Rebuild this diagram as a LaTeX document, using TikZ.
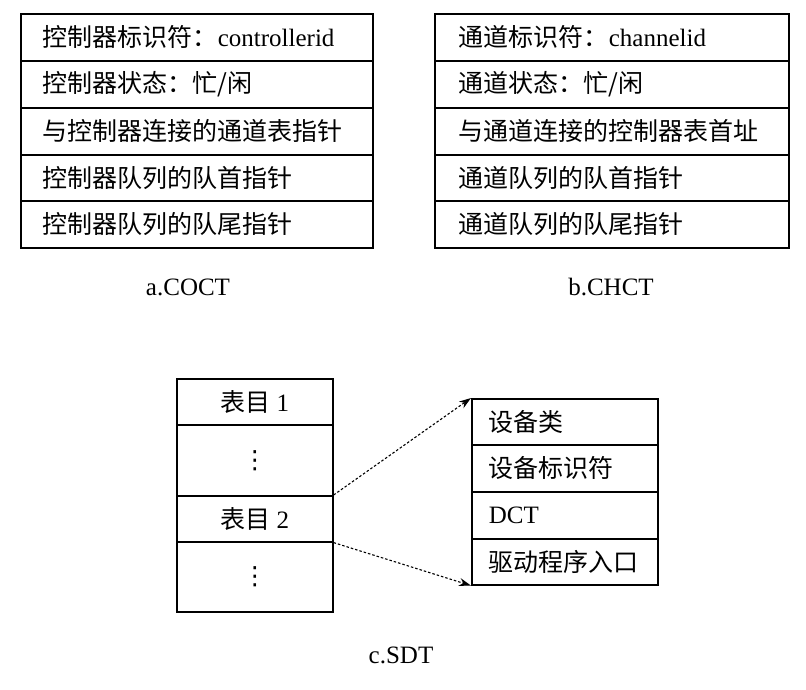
\documentclass[tikz,border=0pt]{standalone}
\usepackage{fontspec}
\setmainfont{Liberation Serif}
\newfontfamily\cjk{Noto Sans CJK SC}
\newfontfamily\symf{DejaVu Sans}
\usetikzlibrary{arrows.meta}
\begin{document}
\begin{tikzpicture}[x=1pt,y=-1pt,
  every node/.style={font=\fontsize{25}{30}\selectfont},
  rowa/.style={draw,line width=1.6pt,rectangle,anchor=north west,
     text width=308pt,inner xsep=22pt,inner ysep=0pt,align=left},
  rowb/.style={rowa,text width=306pt,inner xsep=24pt},
  sdtl/.style={draw,line width=1.6pt,rectangle,anchor=north west,minimum width=156pt,inner sep=0pt,align=center},
  sdtr/.style={draw,line width=1.6pt,rectangle,anchor=north west,
     text width=152pt,inner xsep=17pt,inner ysep=0pt,align=left},
  captext/.style={anchor=base},
  ptr/.style={line width=1.1pt,dash pattern=on 2.5pt off 2pt,-{Stealth[length=12pt,width=8pt]}}]
\useasboundingbox (0,0) rectangle (806,690);
% table a
\node[rowa,minimum height=47pt] (a1) at (20,13)  {{\cjk 控制器标识符：}controllerid};
\node[rowa,minimum height=47pt] (a2) at (20,60)  {\cjk 控制器状态：忙/闲};
\node[rowa,minimum height=47pt] (a3) at (20,107) {\cjk 与控制器连接的通道表指针};
\node[rowa,minimum height=46pt] (a4) at (20,154) {\cjk 控制器队列的队首指针};
\node[rowa,minimum height=47pt] (a5) at (20,200) {\cjk 控制器队列的队尾指针};
% table b
\node[rowb,minimum height=47pt] (b1) at (434,13)  {{\cjk 通道标识符：}channelid};
\node[rowb,minimum height=47pt] (b2) at (434,60)  {\cjk 通道状态：忙/闲};
\node[rowb,minimum height=47pt] (b3) at (434,107) {\cjk 与通道连接的控制器表首址};
\node[rowb,minimum height=46pt] (b4) at (434,154) {\cjk 通道队列的队首指针};
\node[rowb,minimum height=47pt] (b5) at (434,200) {\cjk 通道队列的队尾指针};
\node[captext] (capa) at (188,295) {a.COCT};
\node[captext] (capb) at (611,295) {b.CHCT};
% SDT left
\node[sdtl,minimum height=46pt] (e1) at (176,378) {{\cjk 表目} 1};
\node[sdtl,minimum height=71pt] (d1) at (176,424) {\symf ⋮};
\node[sdtl,minimum height=46pt] (e2) at (176,495) {{\cjk 表目} 2};
\node[sdtl,minimum height=70pt] (d2) at (176,541) {\symf ⋮};
% SDT right
\node[sdtr,minimum height=46pt] (r1) at (471,398) {\cjk 设备类};
\node[sdtr,minimum height=47pt] (r2) at (471,444) {\cjk 设备标识符};
\node[sdtr,minimum height=47pt] (r3) at (471,491) {DCT};
\node[sdtr,minimum height=46pt] (r4) at (471,538) {\cjk 驱动程序入口};
\draw[ptr] (e2.north east) -- (r1.north west);
\draw[ptr] (e2.south east) -- (r4.south west);
\node[captext] (capc) at (401,663) {c.SDT};
\end{tikzpicture}
\end{document}
